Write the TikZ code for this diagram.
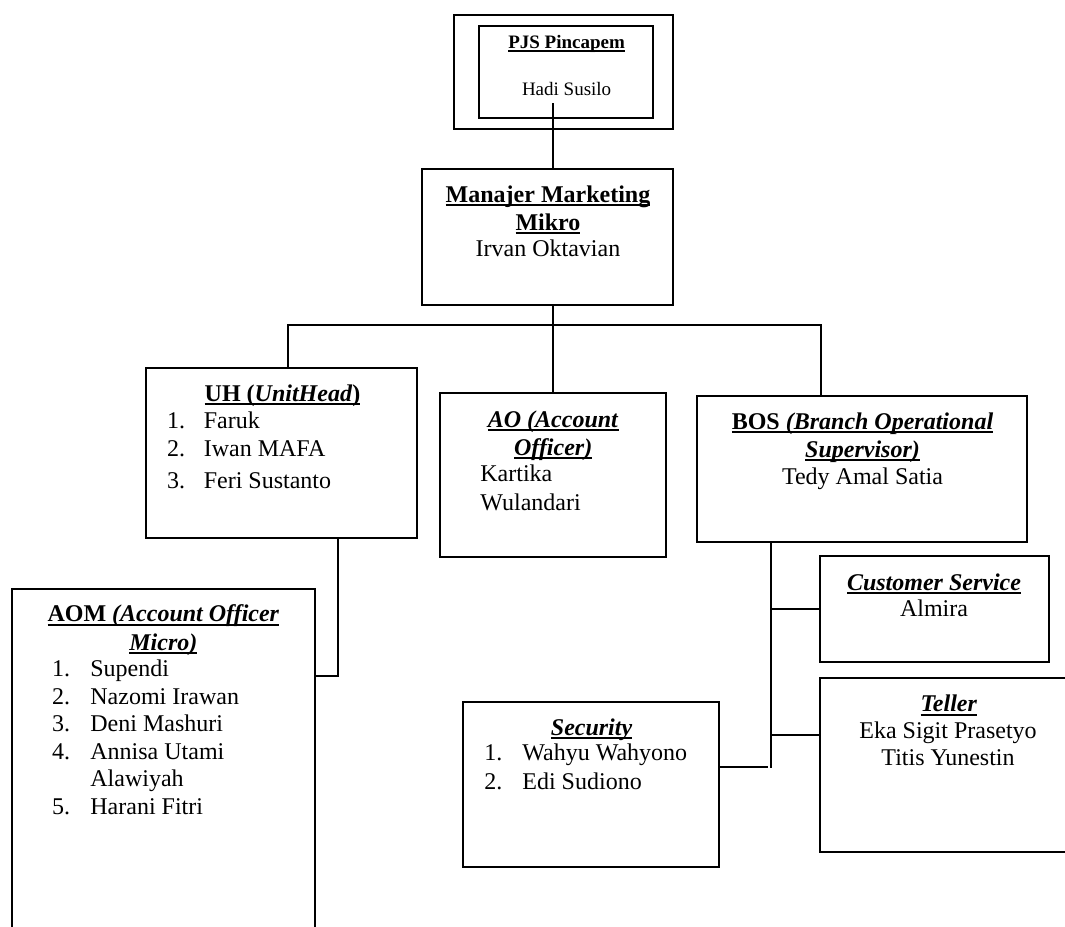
\documentclass[tikz,border=0pt]{standalone}
\usepackage{fontspec}
\setmainfont{Liberation Serif}
\usepackage{tikz}
\newcommand{\undl}[1]{\setbox0\hbox{#1}\rlap{\vrule height -1pt depth 2pt width \wd0}\box0}

\begin{document}
\begin{tikzpicture}
            [every node/.style={inner sep=0pt},
             box/.style={rectangle, draw=black, line width=1pt},
             lbl/.style={anchor=base, font=\fontsize{12}{14}\selectfont},
             itm/.style={anchor=base west, font=\fontsize{12}{14}\selectfont},
             toplbl/.style={anchor=base, font=\fontsize{9.5}{11}\selectfont}]
                \useasboundingbox (0pt, 0pt) rectangle (532.5pt, -463pt);
                \clip (0pt, 0pt) rectangle (532.5pt, -463pt);
                % PJS Pincapem
                \node (pjsout) [box, minimum width=109.5pt, minimum height=57pt] at (281.75pt, -36pt) {};
                \node (pjsin) [box, minimum width=87pt, minimum height=46pt] at (283pt, -36pt) {};
                \node (pjs) [toplbl] at (283.3pt, -24pt) {\undl{\textbf{PJS Pincapem}}};
                \node (hadi) [toplbl] at (283.3pt, -47.5pt) {Hadi Susilo};
                % Manajer Marketing Mikro
                \node (mm) [box, minimum width=125.5pt, minimum height=68pt] at (273.75pt, -118.5pt) {};
                \node (mm1) [lbl] at (274pt, -101pt) {\undl{\textbf{Manajer Marketing}}};
                \node (mm2) [lbl] at (274pt, -115pt) {\undl{\textbf{Mikro}}};
                \node (mm3) [lbl] at (274pt, -128pt) {Irvan Oktavian};
                % UH
                \node (uh) [box, minimum width=135.5pt, minimum height=85pt] at (140.75pt, -226.5pt) {};
                \node (uh0) [lbl] at (141.25pt, -200.5pt) {\undl{\textbf{UH (\textit{UnitHead})}}};
                \node (uh1) [itm] at (83.3pt, -214pt) {\makebox[18.4pt][l]{1.}Faruk};
                \node (uh2) [itm] at (83.3pt, -228.3pt) {\makebox[18.4pt][l]{2.}Iwan MAFA};
                \node (uh3) [itm] at (83.3pt, -244pt) {\makebox[18.4pt][l]{3.}Feri Sustanto};
                % AO
                \node (ao) [box, minimum width=113pt, minimum height=82pt] at (276.5pt, -237.5pt) {};
                \node (ao1) [lbl] at (276.6pt, -213.5pt) {\undl{\textbf{\textit{AO (Account}}}};
                \node (ao2) [lbl] at (276.6pt, -227.5pt) {\undl{\textbf{\textit{Officer)}}}};
                \node (ao3) [itm] at (240pt, -240.8pt) {Kartika};
                \node (ao4) [itm] at (240pt, -255pt) {Wulandari};
                % BOS
                \node (bos) [box, minimum width=165pt, minimum height=73pt] at (431pt, -234.5pt) {};
                \node (bos1) [lbl] at (431.25pt, -214.5pt) {\undl{\textbf{BOS \textit{(Branch Operational}}}};
                \node (bos2) [lbl] at (431.25pt, -228.5pt) {\undl{\textbf{\textit{Supervisor)}}}};
                \node (bos3) [lbl] at (431.25pt, -242pt) {Tedy Amal Satia};
                % AOM
                \node (aom) [box, minimum width=151.5pt, minimum height=190pt] at (81.75pt, -389.5pt) {};
                \node (aom1) [lbl] at (81.7pt, -310.8pt) {\undl{\textbf{AOM \textit{(Account Officer}}}};
                \node (aom2) [lbl] at (81.7pt, -325pt) {\undl{\textbf{\textit{Micro)}}}};
                \node (aom3) [itm] at (25.8pt, -338.3pt) {\makebox[19.2pt][l]{1.}Supendi};
                \node (aom4) [itm] at (25.8pt, -352.2pt) {\makebox[19.2pt][l]{2.}Nazomi Irawan};
                \node (aom5) [itm] at (25.8pt, -365.8pt) {\makebox[19.2pt][l]{3.}Deni Mashuri};
                \node (aom6) [itm] at (25.8pt, -379.7pt) {\makebox[19.2pt][l]{4.}Annisa Utami};
                \node (aom7) [itm] at (45pt, -393.3pt) {Alawiyah};
                \node (aom8) [itm] at (25.8pt, -407.2pt) {\makebox[19.2pt][l]{5.}Harani Fitri};
                % Customer Service
                \node (cs) [box, minimum width=114.5pt, minimum height=53pt] at (467.25pt, -304.5pt) {};
                \node (cs1) [lbl] at (467pt, -295pt) {\undl{\textbf{\textit{Customer Service}}}};
                \node (cs2) [lbl] at (467pt, -308.3pt) {Almira};
                % Teller
                \node (tel) [box, minimum width=135pt, minimum height=87pt] at (477.5pt, -382.5pt) {};
                \node (tel1) [lbl] at (474.4pt, -355.8pt) {\undl{\textbf{\textit{Teller}}}};
                \node (tel2) [lbl] at (474pt, -369.2pt) {Eka Sigit Prasetyo};
                \node (tel3) [lbl] at (474pt, -382.5pt) {Titis Yunestin};
                % Security
                \node (sec) [box, minimum width=128pt, minimum height=82.5pt] at (295.5pt, -392.25pt) {};
                \node (sec1) [lbl] at (295.8pt, -367.5pt) {\undl{\textbf{\textit{Security}}}};
                \node (sec2) [itm] at (242pt, -380.3pt) {\makebox[19pt][l]{1.}Wahyu Wahyono};
                \node (sec3) [itm] at (242pt, -394.7pt) {\makebox[19pt][l]{2.}Edi Sudiono};
                % lines
                \coordinate (hs) at (276.7pt, -51.5pt);
                \coordinate (busl) at (144pt, -162.5pt);
                \coordinate (busr) at (410.5pt, -162.5pt);
                \coordinate (uhk) at (169pt, -338pt);
                \coordinate (bosk) at (385.5pt, -384pt);
                \coordinate (telk) at (385.5pt, -367.5pt);
                \coordinate (seck) at (384pt, -383.5pt);
                \draw [line width=1pt] (hs) -- (hs |- mm.north);
                \draw [line width=1pt] (mm.south -| ao.north) -- (ao.north);
                \draw [line width=1pt] (busl |- uh.north) -- (busl) -- (busr) -- (busr |- bos.north);
                \draw [line width=1pt] (uhk |- uh.south) -- (uhk) -- (uhk -| aom.east);
                \draw [line width=1pt] (bosk |- bos.south) -- (bosk);
                \draw [line width=1pt] (bosk |- cs.west) -- (cs.west);
                \draw [line width=1pt] (telk) -- (telk -| tel.west);
                \draw [line width=1pt] (seck -| sec.east) -- (seck);
            \end{tikzpicture}
\end{document}
